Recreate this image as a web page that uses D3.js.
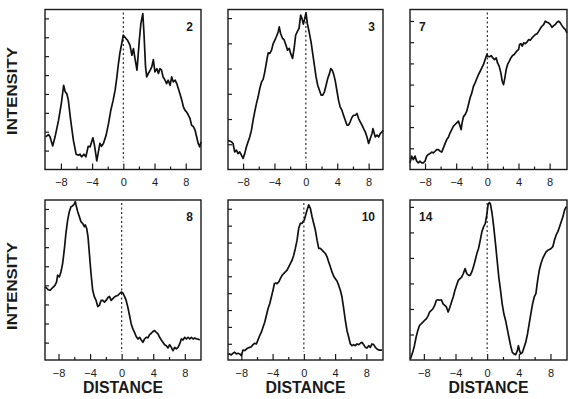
<!DOCTYPE html>
<html>
<head>
<meta charset="utf-8">
<script src="https://cdn.jsdelivr.net/npm/d3@7/dist/d3.min.js"></script>
<style>
  body { margin: 0; background: #fff; }
  svg { display: block; font-family: "Liberation Sans", Arial, Helvetica, sans-serif; }
</style>
</head>
<body>
<div id="chart"></div>
<script>
// scan numbers shown in each panel
const panelNames = ["2", "3", "7", "8", "10", "14"];
const xTickLabels = [-8, -4, 0, 4, 8];
const xTickMinor = [-6, -2, 2, 6];
const yTickCounts = [8, 6, 7, 8, 9, 6];

// [distance, intensity]
const scan2 = [[-9.95,1.73],[-9.6,1.85],[-9.4,1.73],[-9.05,1.25],[-8.75,1.73],[-8.3,2.61],[-7.95,3.49],[-7.65,4.46],[-7.45,4.11],[-7.25,4.02],[-7.05,3.67],[-6.75,2.61],[-6.4,1.55],[-6.05,0.81],[-5.75,0.76],[-5.55,0.81],[-5.35,0.67],[-5.05,0.81],[-4.8,0.67],[-4.5,1.23],[-4.25,1.2],[-3.9,1.68],[-3.7,1.29],[-3.4,0.46],[-3.2,0.93],[-3.0,1.38],[-2.8,1.23],[-2.55,1.38],[-2.2,1.82],[-1.9,2.43],[-1.6,3.14],[-1.3,3.67],[-1.05,4.2],[-0.85,4.81],[-0.65,5.52],[-0.45,6.14],[-0.2,6.67],[0.0,7.11],[0.35,6.93],[0.55,6.84],[0.85,6.58],[1.1,6.05],[1.3,6.4],[1.5,5.87],[1.75,5.26],[1.85,5.78],[2.05,6.84],[2.25,7.72],[2.5,8.25],[2.65,7.2],[2.85,5.43],[3.0,4.9],[3.2,5.08],[3.45,5.26],[3.65,5.43],[3.85,5.82],[4.05,5.17],[4.3,5.34],[4.5,5.08],[4.7,5.34],[4.9,5.26],[5.1,4.9],[5.35,4.73],[5.55,4.55],[5.75,4.73],[6.0,4.46],[6.2,4.9],[6.4,4.64],[6.65,4.73],[6.85,4.55],[7.05,4.29],[7.25,4.02],[7.5,3.67],[7.7,3.32],[7.9,3.14],[8.1,3.05],[8.35,2.87],[8.55,2.7],[8.75,2.35],[9.0,2.26],[9.2,2.08],[9.4,1.73],[9.6,1.38],[9.8,1.2],[9.95,1.46]];
const scan3 = [[-9.92,1.16],[-9.49,1.1],[-9.28,1.03],[-9.07,0.7],[-8.85,0.77],[-8.64,0.63],[-8.43,0.7],[-8.21,0.57],[-8.0,0.44],[-7.79,0.63],[-7.57,0.9],[-7.36,1.1],[-7.15,1.29],[-6.93,1.56],[-6.72,1.96],[-6.51,2.29],[-6.29,2.62],[-6.08,2.88],[-5.87,3.21],[-5.65,3.47],[-5.44,3.57],[-5.23,3.87],[-5.01,4.27],[-4.8,4.62],[-4.59,4.6],[-4.37,4.73],[-4.16,4.99],[-3.95,5.13],[-3.73,5.28],[-3.52,5.46],[-3.39,5.65],[-3.22,5.39],[-2.97,5.19],[-2.79,5.15],[-2.54,4.93],[-2.33,4.73],[-2.11,4.8],[-1.94,4.6],[-1.69,4.4],[-1.47,4.86],[-1.3,5.32],[-1.09,5.46],[-0.87,5.59],[-0.66,6.12],[-0.49,5.98],[-0.32,5.76],[-0.19,5.92],[0.02,6.21],[0.19,5.79],[0.41,5.46],[0.66,5.06],[0.87,4.6],[1.09,4.13],[1.3,3.67],[1.51,3.34],[1.73,3.14],[1.94,2.95],[2.15,2.95],[2.37,3.08],[2.58,3.34],[2.79,3.61],[3.01,3.8],[3.18,4.0],[3.35,3.94],[3.52,3.8],[3.73,3.54],[3.95,3.14],[4.16,2.75],[4.37,2.48],[4.59,2.35],[4.8,2.15],[5.01,1.96],[5.23,1.76],[5.44,1.76],[5.65,1.89],[5.87,2.06],[6.08,2.15],[6.29,2.15],[6.51,2.22],[6.72,2.02],[6.93,1.89],[7.15,1.76],[7.36,1.62],[7.57,1.49],[7.79,1.29],[8.0,1.03],[8.21,1.23],[8.43,1.43],[8.55,1.62],[8.72,1.43],[8.85,1.29],[9.07,1.36],[9.28,1.29],[9.49,1.43],[9.71,1.49],[9.83,1.56]];
const scan7 = [[-9.93,0.31],[-9.72,0.63],[-9.5,0.47],[-9.29,0.63],[-9.07,0.39],[-8.86,0.31],[-8.64,0.39],[-8.43,0.31],[-8.22,0.31],[-8.0,0.39],[-7.79,0.63],[-7.57,0.71],[-7.36,0.75],[-7.14,0.82],[-6.93,0.78],[-6.71,0.86],[-6.5,0.94],[-6.28,0.94],[-6.07,0.86],[-5.86,0.82],[-5.64,1.02],[-5.43,1.22],[-5.21,1.41],[-5.0,1.52],[-4.78,1.73],[-4.57,1.88],[-4.35,2.04],[-4.14,2.12],[-3.93,2.2],[-3.71,2.28],[-3.5,2.04],[-3.37,1.88],[-3.24,2.2],[-3.07,2.48],[-2.85,2.59],[-2.64,2.75],[-2.42,3.06],[-2.21,3.38],[-1.99,3.61],[-1.78,3.92],[-1.57,4.08],[-1.35,4.29],[-1.14,4.47],[-0.92,4.63],[-0.71,4.79],[-0.49,4.95],[-0.28,5.18],[-0.06,5.42],[0.06,5.34],[0.28,5.31],[0.49,5.37],[0.71,5.26],[0.92,5.18],[1.14,5.26],[1.31,5.02],[1.52,4.87],[1.74,4.55],[1.91,4.16],[2.08,4.0],[2.25,4.32],[2.42,4.71],[2.6,4.95],[2.81,5.1],[3.02,5.26],[3.24,5.37],[3.45,5.42],[3.67,5.53],[3.88,5.62],[4.01,5.65],[4.14,5.89],[4.31,5.93],[4.48,5.81],[4.66,5.97],[4.87,5.93],[5.08,6.0],[5.3,6.12],[5.51,6.09],[5.73,6.2],[5.94,6.28],[6.16,6.36],[6.37,6.39],[6.59,6.51],[6.8,6.64],[7.01,6.75],[7.23,6.83],[7.44,6.99],[7.66,6.94],[7.87,6.91],[8.09,6.83],[8.3,6.7],[8.52,6.78],[8.73,6.83],[8.94,6.94],[9.16,6.99],[9.37,6.91],[9.59,6.78],[9.8,6.67],[10.02,6.59],[10.23,6.44]];
const scan8 = [[-9.72,3.91],[-9.51,3.86],[-9.3,3.77],[-9.09,3.74],[-8.88,3.82],[-8.67,3.91],[-8.45,4.0],[-8.24,4.18],[-8.11,4.53],[-7.9,4.44],[-7.69,4.7],[-7.48,5.14],[-7.27,5.84],[-7.06,6.72],[-6.84,7.42],[-6.63,7.86],[-6.42,8.12],[-6.21,8.16],[-6.0,8.26],[-5.87,8.39],[-5.78,8.21],[-5.57,7.86],[-5.36,7.6],[-5.15,7.33],[-4.94,7.25],[-4.72,7.07],[-4.6,7.16],[-4.43,6.98],[-4.26,6.54],[-4.09,5.67],[-3.88,4.61],[-3.67,3.74],[-3.45,3.39],[-3.24,3.21],[-3.03,2.89],[-2.82,2.95],[-2.61,3.21],[-2.39,3.21],[-2.18,3.12],[-1.97,3.21],[-1.76,3.35],[-1.55,3.42],[-1.33,3.21],[-1.12,3.3],[-0.91,3.39],[-0.7,3.44],[-0.49,3.47],[-0.28,3.56],[-0.06,3.65],[0.15,3.6],[0.36,3.42],[0.57,3.21],[0.78,2.86],[1.0,2.42],[1.21,1.98],[1.42,1.72],[1.63,1.54],[1.84,1.32],[2.06,1.19],[2.27,1.28],[2.48,1.14],[2.69,1.02],[2.9,1.19],[3.11,1.28],[3.33,1.25],[3.54,1.42],[3.75,1.49],[3.96,1.58],[4.17,1.63],[4.39,1.54],[4.6,1.46],[4.81,1.28],[5.02,1.14],[5.23,1.02],[5.44,0.89],[5.66,0.84],[5.87,0.72],[6.08,0.89],[6.29,0.75],[6.5,0.58],[6.72,0.75],[6.93,0.67],[7.14,0.75],[7.35,0.93],[7.56,1.19],[7.77,1.14],[7.99,1.28],[8.2,1.19],[8.41,1.28],[8.62,1.19],[8.83,1.28],[9.05,1.19],[9.26,1.25],[9.47,1.19],[9.68,1.19],[9.89,1.14]];
const scan10 = [[-9.71,0.36],[-9.49,0.4],[-9.28,0.34],[-9.07,0.44],[-8.85,0.5],[-8.64,0.4],[-8.43,0.44],[-8.21,0.4],[-8.0,0.3],[-7.79,0.63],[-7.57,0.6],[-7.36,0.69],[-7.15,0.75],[-6.93,0.79],[-6.72,0.83],[-6.51,0.95],[-6.29,1.03],[-6.08,0.99],[-5.87,1.23],[-5.65,1.49],[-5.44,1.69],[-5.23,1.98],[-5.01,2.28],[-4.8,2.68],[-4.59,3.08],[-4.37,3.37],[-4.16,3.77],[-3.95,4.17],[-3.78,4.56],[-3.6,4.6],[-3.43,4.56],[-3.22,4.66],[-3.01,4.86],[-2.79,5.06],[-2.58,5.16],[-2.37,5.26],[-2.15,5.36],[-1.94,5.56],[-1.73,5.75],[-1.51,5.95],[-1.3,6.25],[-1.09,6.65],[-0.87,7.14],[-0.66,7.84],[-0.45,8.13],[-0.23,8.13],[-0.11,8.23],[0.06,8.33],[0.23,8.63],[0.41,8.93],[0.62,9.23],[0.83,9.03],[1.05,8.53],[1.26,8.13],[1.47,7.74],[1.69,7.14],[1.9,6.65],[2.11,6.65],[2.33,6.55],[2.54,6.45],[2.75,6.35],[2.97,6.15],[3.18,5.85],[3.39,5.56],[3.6,5.26],[3.82,5.0],[4.03,4.86],[4.24,4.72],[4.46,4.46],[4.67,4.17],[4.88,3.77],[5.1,3.08],[5.31,2.38],[5.52,1.79],[5.74,1.39],[5.95,0.99],[6.16,0.89],[6.38,0.95],[6.59,0.89],[6.8,0.99],[7.02,0.95],[7.23,1.03],[7.44,1.09],[7.66,0.95],[7.87,0.79],[8.08,0.75],[8.3,0.89],[8.51,0.79],[8.72,0.99],[8.94,0.95],[9.15,0.79],[9.36,0.69],[9.58,0.63],[9.79,0.63],[10.0,0.63]];
const scan14 = [[-9.7,0.04],[-9.41,0.3],[-9.19,0.56],[-8.98,0.89],[-8.77,1.15],[-8.55,1.35],[-8.34,1.42],[-8.13,1.48],[-7.91,1.55],[-7.7,1.61],[-7.49,1.71],[-7.27,1.88],[-7.06,1.94],[-6.85,2.01],[-6.63,2.14],[-6.42,2.34],[-6.21,2.36],[-5.99,2.34],[-5.78,2.36],[-5.57,2.2],[-5.35,2.14],[-5.14,2.07],[-4.93,1.88],[-4.71,2.07],[-4.5,2.27],[-4.29,2.47],[-4.07,2.73],[-3.86,2.93],[-3.65,3.12],[-3.43,3.19],[-3.22,3.25],[-3.01,3.39],[-2.79,3.58],[-2.58,3.39],[-2.37,3.32],[-2.15,3.32],[-1.94,3.45],[-1.73,3.65],[-1.51,3.91],[-1.3,4.17],[-1.09,4.37],[-0.87,4.7],[-0.66,5.03],[-0.45,5.22],[-0.23,5.35],[-0.02,5.75],[0.11,6.08],[0.28,6.17],[0.41,6.12],[0.62,5.75],[0.83,5.22],[1.05,4.57],[1.26,3.91],[1.47,3.25],[1.69,2.73],[1.9,2.2],[2.11,1.81],[2.33,1.55],[2.54,1.22],[2.75,0.89],[2.97,0.56],[3.18,0.3],[3.39,0.24],[3.6,0.21],[3.82,0.37],[3.95,0.56],[4.07,0.39],[4.24,0.24],[4.46,0.3],[4.67,0.5],[4.88,0.7],[5.1,1.02],[5.31,1.42],[5.52,1.81],[5.74,2.2],[5.95,2.47],[6.16,2.6],[6.38,3.12],[6.59,3.52],[6.8,3.78],[7.02,3.98],[7.23,4.11],[7.44,4.24],[7.66,4.3],[7.87,4.33],[8.08,4.37],[8.3,4.44],[8.51,4.7],[8.72,4.9],[8.94,5.03],[9.15,5.22],[9.36,5.42],[9.58,5.62],[9.79,5.88],[10.0,6.01]];
const scans = [scan2, scan3, scan7, scan8, scan10, scan14];

const xDomains = [[-10.04, 9.96], [-9.92, 9.83], [-9.93, 10.23], [-9.71, 10.05], [-9.71, 10.13], [-9.75, 10.09]];
const yDomains = [[0, 8.47], [0, 6.34], [0, 7.54], [0.09, 8.47], [0.04, 9.52], [0, 6.27]];

const width = 570, height = 399;
const colX = [45, 228, 410], colW = [156, 155, 157];
const rowY = [9.5, 200], plotH = 160;

const svg = d3.select("#chart").append("svg")
    .attr("width", width)
    .attr("height", height);

const ink = "#1a1a1a";

scans.forEach((data, i) => {
  const col = i % 3, row = Math.floor(i / 3);
  const left = colX[col], top = rowY[row];
  const w = colW[col];

  const x = d3.scaleLinear().domain(xDomains[i]).range([left, left + w]);
  const y = d3.scaleLinear().domain(yDomains[i]).range([top + plotH, top]);

  const g = svg.append("g");

  // bottom axis, ticks pointing into the plot
  const xAxis = d3.axisBottom(x).tickValues(xTickLabels)
      .tickSizeInner(-6).tickSizeOuter(0).tickPadding(9)
      .tickFormat(d => d < 0 ? "\u2212" + Math.abs(d) : d);
  const ax = g.append("g")
      .attr("transform", `translate(0,${top + plotH})`)
      .call(xAxis);
  ax.select(".domain").remove();
  ax.selectAll("line").attr("stroke", ink).attr("stroke-width", 1.2);
  ax.selectAll("text").attr("font-size", 11).attr("fill", ink)
      .attr("font-family", "'Liberation Sans', Arial, sans-serif");

  const mx = d3.axisBottom(x).tickValues(xTickMinor).tickSizeInner(-3).tickSizeOuter(0).tickFormat("");
  const am = g.append("g").attr("transform", `translate(0,${top + plotH})`).call(mx);
  am.select(".domain").remove();
  am.selectAll("line").attr("stroke", ink).attr("stroke-width", 1.2);

  // left ticks, unlabelled
  const yAxis = d3.axisLeft(y).tickValues(d3.range(1, yTickCounts[i] + 1))
      .tickSizeInner(-4).tickSizeOuter(0).tickFormat("");
  const ay = g.append("g").attr("transform", `translate(${left},0)`).call(yAxis);
  ay.select(".domain").remove();
  ay.selectAll("line").attr("stroke", ink).attr("stroke-width", 1.2);

  // dotted line at zero
  g.append("line")
      .attr("x1", x(0)).attr("x2", x(0))
      .attr("y1", top + 3).attr("y2", top + plotH - 8)
      .attr("stroke", ink).attr("stroke-width", 1.1)
      .attr("stroke-dasharray", "2,2.5");

  g.append("path")
      .datum(data)
      .attr("fill", "none")
      .attr("stroke", "#111")
      .attr("stroke-width", 1.7)
      .attr("stroke-linejoin", "round")
      .attr("d", d3.line().x(d => x(d[0])).y(d => y(d[1])));

  // frame
  g.append("rect")
      .attr("x", left).attr("y", top)
      .attr("width", w).attr("height", plotH)
      .attr("fill", "none").attr("stroke", ink).attr("stroke-width", 1.4);

  // panel number
  const onLeft = col === 2;
  g.append("text")
      .attr("x", onLeft ? left + 9 : left + w - 8)
      .attr("y", top + 21)
      .attr("text-anchor", onLeft ? "start" : "end")
      .attr("font-size", 12).attr("font-weight", "bold").attr("fill", ink)
      .text(panelNames[i]);

  if (row === 1) {
    svg.append("text")
        .attr("x", left + w / 2).attr("y", 393)
        .attr("text-anchor", "middle")
        .attr("font-size", 17).attr("font-weight", "bold").attr("fill", ink)
        .attr("textLength", 80).attr("lengthAdjust", "spacingAndGlyphs")
        .text("DISTANCE");
  }
  if (col === 0) {
    const cy = row === 0 ? 91 : 286;
    svg.append("text")
        .attr("transform", `translate(17,${cy}) rotate(-90)`)
        .attr("text-anchor", "middle")
        .attr("font-size", 15).attr("font-weight", "bold").attr("fill", ink)
        .attr("textLength", 88).attr("lengthAdjust", "spacingAndGlyphs")
        .text("INTENSITY");
  }
});
</script>
</body>
</html>
